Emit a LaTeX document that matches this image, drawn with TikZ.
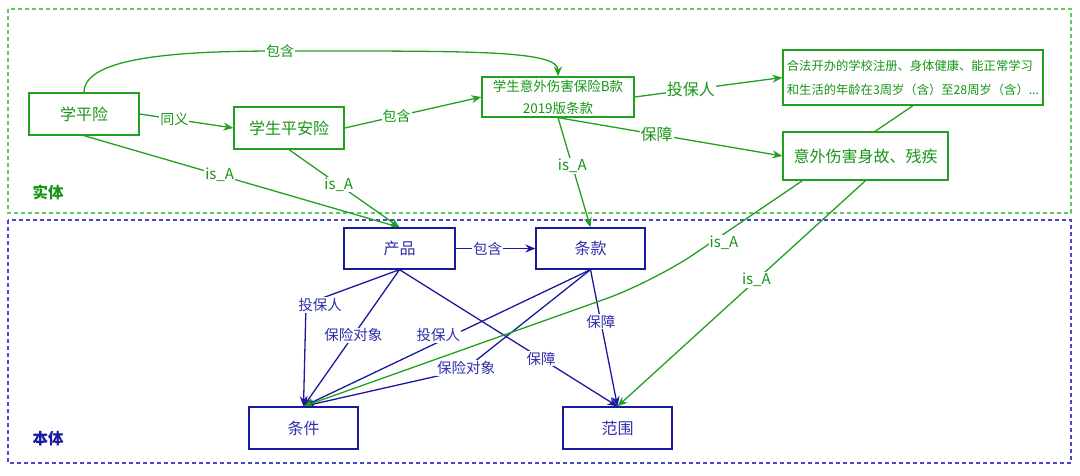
\documentclass[tikz,border=0pt]{standalone}
\usepackage{fontspec}
\setmainfont{Noto Sans CJK SC}
\usetikzlibrary{arrows.meta}
\pgfdeclarelayer{back}
\pgfdeclarelayer{edges}
\pgfsetlayers{back,edges,main}
\definecolor{gline}{RGB}{34,160,34}
\definecolor{gtext}{RGB}{22,150,22}
\definecolor{gdash}{RGB}{95,200,95}
\definecolor{bline}{RGB}{26,26,160}
\definecolor{btext}{RGB}{48,48,172}
\definecolor{bdash}{RGB}{72,72,205}
\newcommand{\myfs}[2]{\fontsize{#1}{#2}\selectfont}
\begin{document}
\begin{tikzpicture}[x=1pt,y=-1pt,
  gbox/.style={draw=gline,line width=1.3pt,fill=white,text=gtext,inner sep=0pt,font=\myfs{16}{18}},
  bbox/.style={draw=bline,line width=1.3pt,fill=white,text=btext,inner sep=0pt,font=\myfs{16}{18}},
  gedge/.style={draw=gline,line width=1.3pt,-{Stealth[length=10pt,width=8pt]}},
  bedge/.style={draw=bline,line width=1.3pt,-{Stealth[length=10pt,width=8pt]}},
  glab/.style={fill=white,text=gtext,inner sep=1pt,font=\myfs{14}{16}},
  glabbig/.style={fill=white,text=gtext,inner sep=1pt,font=\myfs{16}{18}},
  blab/.style={fill=white,text=btext,inner sep=1pt,font=\myfs{14.5}{16}},
  region/.style={line width=1.2pt,dash pattern=on 4pt off 3pt}
]
\useasboundingbox (0,0) rectangle (1080,475);

% regions
\begin{pgfonlayer}{back}
\draw[region,draw=gdash] (8,9) rectangle (1071,213);
\draw[region,draw=bdash] (8,220) rectangle (1071,463);
\end{pgfonlayer}
\node[text=gtext,font=\myfs{15.5}{17}\bfseries] (shiti) at (48,192) {实体};
\node[text=bline,font=\myfs{15.5}{17}\bfseries] (benti) at (48,439) {本体};

% green nodes
\node[gbox,minimum width=110pt,minimum height=42pt] (xpx) at (84,114) {学平险};
\node[gbox,minimum width=110pt,minimum height=42pt] (xsp) at (289,128) {学生平安险};
\node[gbox,minimum width=152pt,minimum height=40pt,align=center,font=\myfs{13.5}{22}] (tk) at (558,97) {学生意外伤害保险B款\\2019版条款};
\node[gbox,minimum width=260pt,minimum height=55pt,align=left,font=\myfs{12.3}{24}] (hf) at (913,77.5) {合法开办的学校注册、身体健康、能正常学习\\和生活的年龄在3周岁（含）至28周岁（含）...};
\node[gbox,minimum width=165pt,minimum height=48pt] (yw) at (865.5,156) {意外伤害身故、残疾};

% blue nodes
\node[bbox,minimum width=111pt,minimum height=41pt] (cp) at (399.5,248.5) {产品};
\node[bbox,minimum width=109pt,minimum height=41pt] (tkb) at (590.5,248.5) {条款};
\node[bbox,minimum width=109pt,minimum height=42pt] (tj) at (303.5,428) {条件};
\node[bbox,minimum width=109pt,minimum height=42pt] (fw) at (617.5,428) {范围};

\begin{pgfonlayer}{edges}
% blue edges
\draw[bedge] (cp.east) -- node[blab,pos=0.4] (l1) {包含} (tkb.west);
\draw[bedge,rounded corners=10pt] (cp.south) -- (306,304) -- (tj.north);
\node[blab] (l2) at (320,305) {投保人};
\draw[bedge] (cp.south) -- node[blab,pos=0.48] (l3) {保险对象} (tj.north);
\draw[bedge] (cp.south) -- node[blab,pos=0.65] (l4) {保障} (fw.north);
\draw[bedge] (tkb.south) -- node[blab,pos=0.53,yshift=7pt] (l5) {投保人} (tj.north);
\draw[bedge] (tkb.south) -- (464,370) -- (tj.north);
\node[blab] (l6) at (466,368) {保险对象};
\draw[bedge] (tkb.south) -- node[blab,pos=0.38] (l7) {保障} (fw.north);

% green edges
\draw[gedge] (xpx.east) -- node[glab,pos=0.37] (g1) {同义} (xsp.west);
\draw[gedge] (xsp.east) -- node[glab,pos=0.38] (g2) {包含} (tk.west);
\draw[gedge] (xpx.north) .. controls (84,55) and (190,51) .. (280,51)
   node[glab] (g3) {包含}
   .. controls (470,51) and (558,50) .. (tk.north);
\draw[gedge] (tk.east) -- node[glabbig,pos=0.38] (g4) {投保人} (hf.west);
\draw[gedge] (tk.south) -- node[glabbig,pos=0.44] (g5) {保障} (yw.west);
\draw[gedge] (tk.south) -- node[glab,font=\myfs{15}{17},pos=0.44] (g6) {is\_A} (tkb.north);
\draw[gedge] (xpx.south) -- node[glab,font=\myfs{15}{17},pos=0.43] (g7) {is\_A} (cp.north);
\draw[gedge] (xsp.south) -- node[glab,font=\myfs{15}{17},pos=0.45] (g8) {is\_A} (cp.north);
\draw[gedge,rounded corners=50pt] (hf.south) -- (653,282) -- (tj.north);
\node[glab,font=\myfs{15}{17}] (g9) at (724,243) {is\_A};
\draw[gedge] (yw.south) -- node[glab,font=\myfs{15}{17},pos=0.44] (g10) {is\_A} (fw.north);
\end{pgfonlayer}
\end{tikzpicture}
\end{document}
